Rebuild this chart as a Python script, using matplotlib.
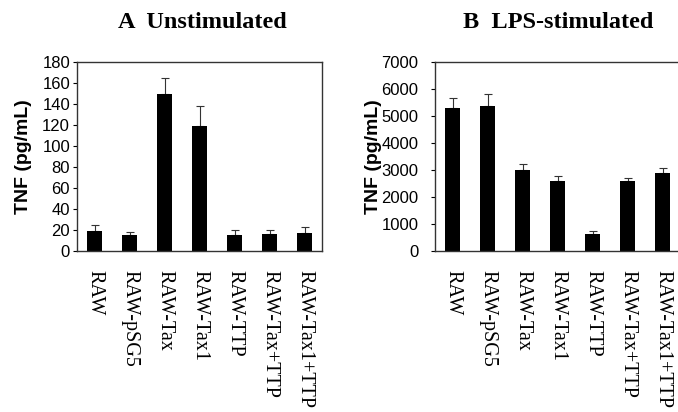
import numpy as np
import matplotlib
matplotlib.use("Agg")
import matplotlib.pyplot as plt

labels = ["RAW", "RAW-pSG5", "RAW-Tax", "RAW-Tax1", "RAW-TTP", "RAW-Tax+TTP", "RAW-Tax1+TTP"]

unstim = [19, 15, 150, 119, 15, 16, 17]
unstim_err = [6, 3, 15, 19, 5, 4, 6]

lps = [5300, 5380, 3000, 2580, 620, 2580, 2880]
lps_err = [350, 420, 230, 200, 120, 140, 180]

fig = plt.figure(figsize=(6.78, 4.12), dpi=100)
axA = fig.add_axes([0.1136, 0.3908, 0.3614, 0.4587])
axB = fig.add_axes([0.6416, 0.3908, 0.3614, 0.4587])


def panel(ax, vals, errs, ymax, step, title, tcx, ypad, lblx):
    x = np.arange(len(vals))
    ax.bar(x, vals, width=0.43, color="black", zorder=2)
    ax.errorbar(x, vals, yerr=[np.zeros(len(errs)), errs], fmt="none",
                ecolor="#333333", elinewidth=0.8, capsize=3, capthick=0.8, zorder=1)
    ax.set_xlim(-0.5, len(vals) - 0.5)
    ax.set_ylim(0, ymax)
    ax.set_yticks(np.arange(0, ymax + 1, step))
    ax.set_xticks(x)
    ax.set_xticklabels(labels, rotation=270, family="Liberation Serif",
                       fontsize=14.5, va="top", ha="center")
    ax.tick_params(axis="x", length=0, pad=14)
    ax.tick_params(axis="y", length=3, width=0.8, pad=ypad, labelsize=12)
    for lab in ax.get_yticklabels():
        lab.set_family("Liberation Sans")
    for s in ax.spines.values():
        s.set_linewidth(1.0)
        s.set_color("#333333")
    ax.set_ylabel("TNF (pg/mL)", family="Liberation Sans", fontweight="bold",
                  fontsize=14)
    ax.yaxis.set_label_coords(lblx, 0.5)
    fig.text(tcx, 0.945, title, family="Liberation Serif", fontweight="bold",
             fontsize=17.5, ha="center", va="center")


panel(axA, unstim, unstim_err, 180, 20, "A  Unstimulated", 202 / 678, 2, -0.185)
panel(axB, lps, lps_err, 7000, 1000, "B  LPS-stimulated", 558 / 678, 9, -0.215)

fig.savefig("out.png", dpi=100)
